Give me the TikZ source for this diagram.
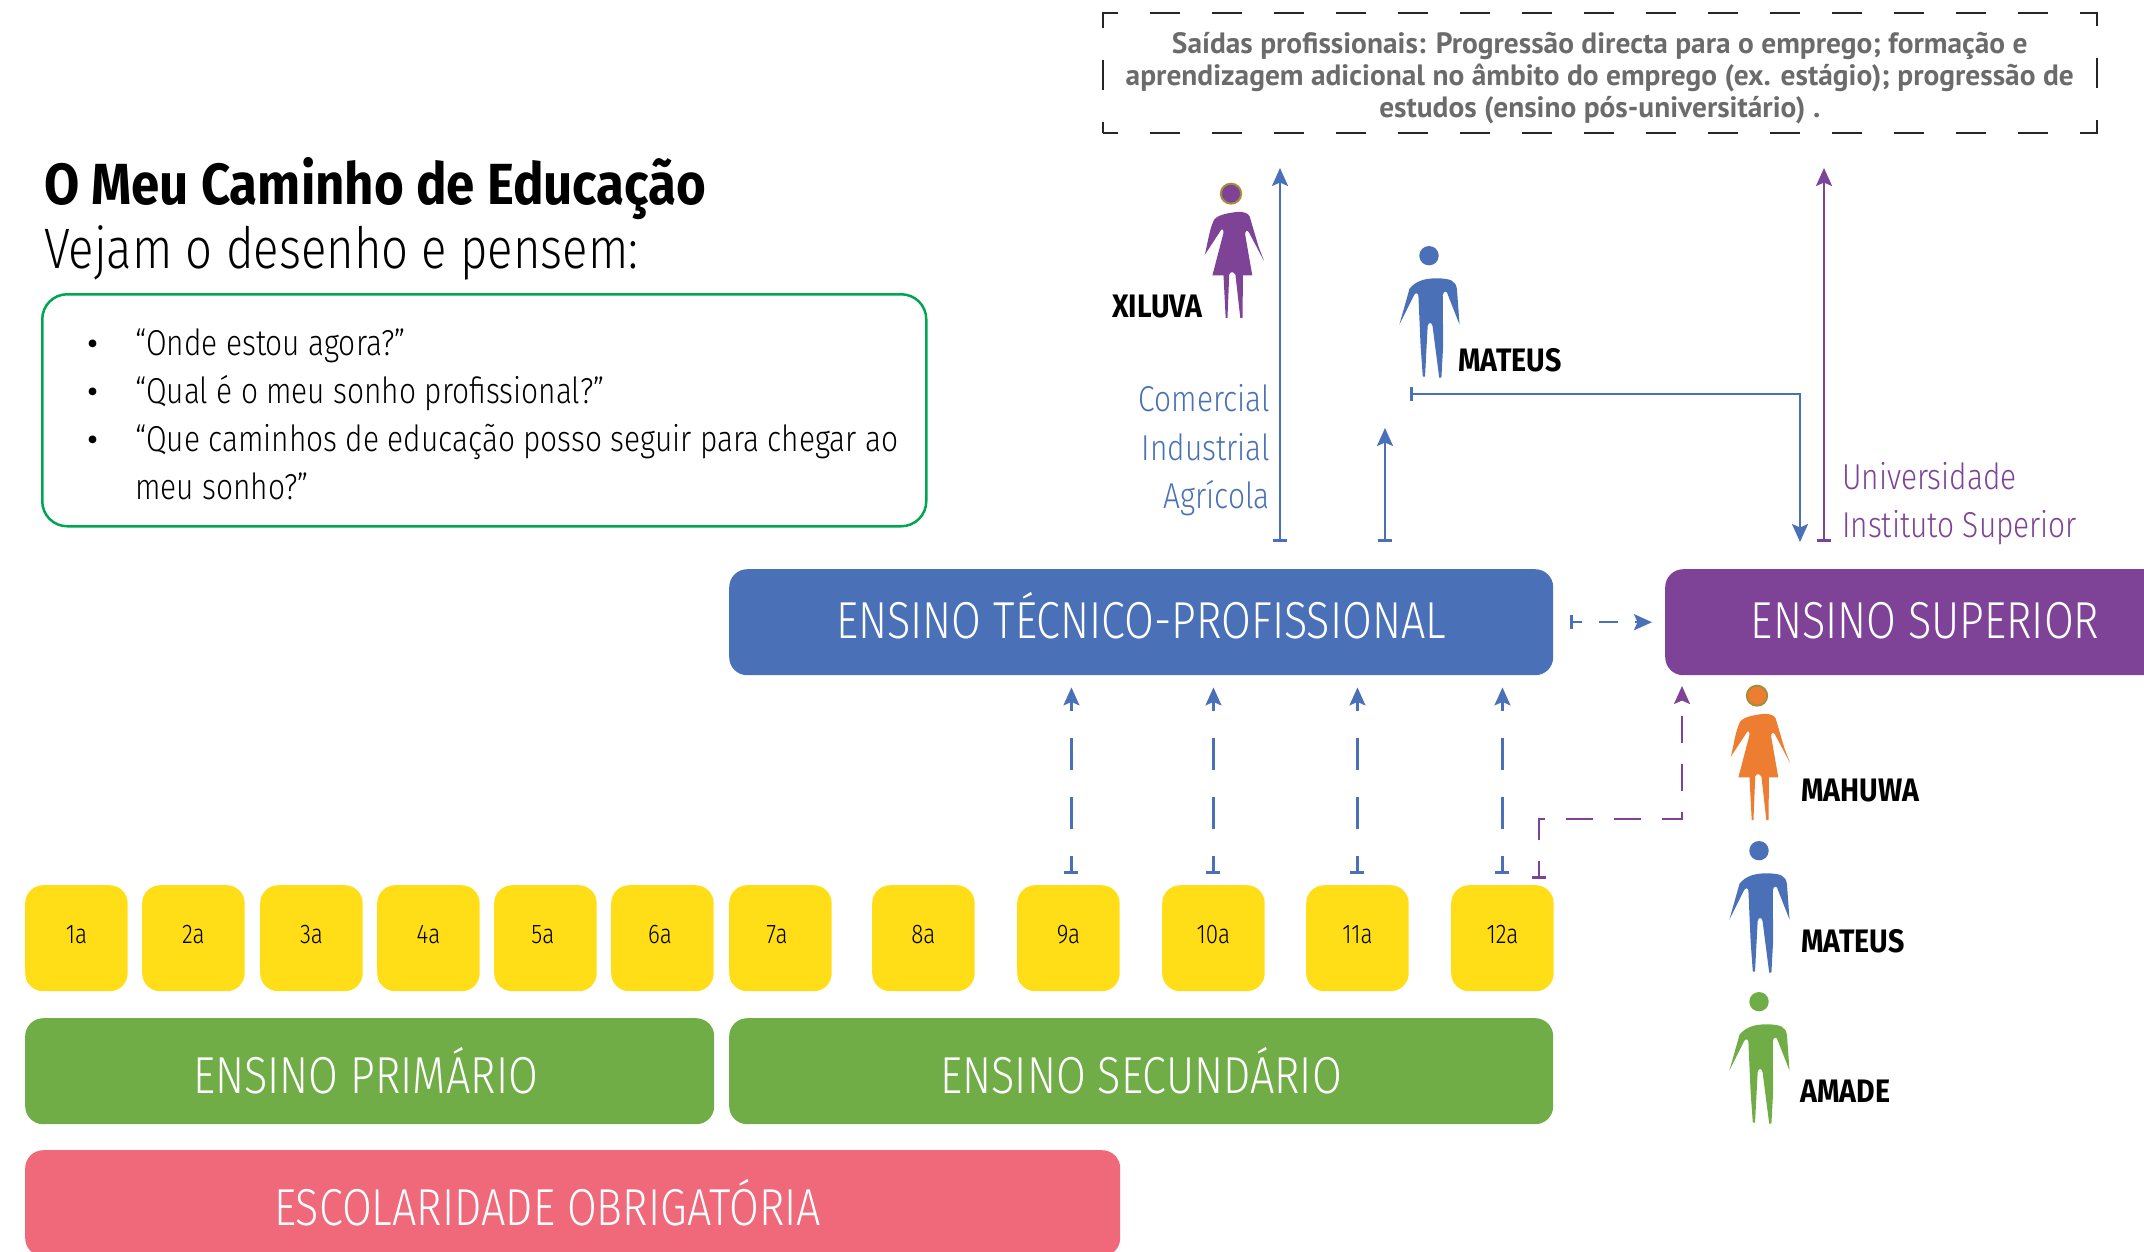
\documentclass[tikz,border=0pt]{standalone}
\usepackage{fontspec}
\usetikzlibrary{arrows.meta}
\setmainfont{Fira Sans}
\newfontfamily\lightf[FakeStretch=0.83]{Fira Sans Light}
\newfontfamily\boldf[FakeStretch=0.88]{Fira Sans}
\newfontfamily\handf{PT Sans}
\definecolor{ColorBlue}{RGB}{74,113,183}
\definecolor{ColorPurple}{RGB}{126,67,151}
\definecolor{ColorYellow}{RGB}{255,221,23}
\definecolor{ColorGreen}{RGB}{112,173,71}
\definecolor{ColorRed}{RGB}{240,105,122}
\definecolor{ColorOrange}{RGB}{237,125,49}
\definecolor{ColorRing}{RGB}{165,142,58}
\definecolor{ColorFrame}{RGB}{0,166,81}
\definecolor{ColorGrey}{RGB}{107,107,107}
\newcommand{\fsize}[1]{\fontsize{#1}{#1}\selectfont}
\tikzset{
  bloc/.style={anchor=north west,rounded corners=18pt,inner sep=0pt,minimum height=106pt,text height=33pt,text depth=0pt,text=white,font=\lightf\fsize{52}},
  baixo/.style={bloc,text height=44pt},
  ano/.style={bloc,fill=ColorYellow,minimum width=102.5pt,text=black,text height=11pt,text depth=0pt,font=\lightf\fsize{27}},
  tag/.style={anchor=base west,inner sep=0pt,font=\boldf\bfseries\fsize{32.5}},
  via/.style={anchor=base,inner sep=0pt,font=\lightf\fsize{36}},
  ask/.style={anchor=base west,inner sep=0pt,font=\lightf\fsize{36}},
  seta/.style={line width=2.2pt,{Bar[width=14pt,line width=2.6pt]}-{Stealth[width=16pt,length=18pt,inset=3.5pt]}},
  setadash/.style={seta,dash pattern=on 32pt off 27pt,dash phase=16pt}
}
% person drawn from the top of the head, #1 x, #2 y, #3 colour
\newcommand{\homem}[3]{
  \begin{scope}[shift={(#1,#2)},xscale=0.4427,yscale=0.3333]
    \fill[#3] (0,29) ellipse [x radius=22,y radius=29];
    \fill[#3] (16,97) .. controls (-10,97) and (-30,105) .. (-44,128) -- (-67,236) -- (-34,148)
      .. controls (-30,140) and (-26,140) .. (-24,148) -- (-19,300) -- (-14,392) -- (-9,392) -- (-3,240)
      .. controls (-1,228) and (6,228) .. (8,240) -- (23,395) -- (28,395) -- (32,298) -- (31,148)
      .. controls (33,133) and (41,133) .. (43,148) -- (69,236) -- (63,128)
      .. controls (60,105) and (50,97) .. (16,97) -- cycle;
  \end{scope}
}
\newcommand{\mulher}[3]{
  \begin{scope}[shift={(#1,#2)},xscale=0.4427,yscale=0.3333]
    \draw[ColorRing,fill=#3,line width=2pt] (0,32) ellipse [x radius=23,y radius=30];
    \fill[#3] (12,87) .. controls (-5,90) and (-30,95) .. (-38,110) .. controls (-48,135) and (-52,175) .. (-59,215)
      -- (-22,140) .. controls (-19,135) and (-17,140) .. (-17,150) -- (-42,277) -- (-17,277) -- (-12,405) -- (-8,405) -- (-4,275)
      .. controls (-2,265) and (6,265) .. (10,275) -- (21,405) -- (26,405) -- (27,277) -- (48,277) -- (32,155)
      .. controls (32,143) and (36,140) .. (40,147) -- (75,235) -- (62,190) -- (42,100)
      .. controls (38,90) and (28,85) .. (12,87) -- cycle;
  \end{scope}
}

\begin{document}
\begin{tikzpicture}[x=1pt,y=-1pt]
	\clip (0,0) rectangle (2144,1251);

	% title
	\node[anchor=base west,inner sep=0pt,font=\boldf\bfseries\fsize{58}] (titulo) at (44,204) {O Meu Caminho de Educação};
	\node[anchor=base west,inner sep=0pt,font=\lightf\fsize{57}] (subtitulo) at (44,268) {Vejam o desenho e pensem:};

	% questions
	\node[anchor=north west,draw=ColorFrame,line width=2.5pt,rounded corners=25pt,minimum width=884pt,minimum height=232pt] (perguntas) at (41,293) {};
	\foreach \n/\yy/\t in {1/355/“Onde estou agora?”,2/403/“Qual é o meu sonho profissional?”,3/451/“Que caminhos de educação posso seguir para chegar ao}{
		\node[ask] (q\n) at (135,\yy) {\t};
		\node[anchor=base,inner sep=0pt,font=\fsize{34}] (b\n) at (93,\yy) {\textbullet};
	}
	\node[ask] (q4) at (135,499) {meu sonho?”};

	% exits
	\node[anchor=north west,draw=black!85,line width=1.5pt,dash pattern=on 30pt off 32pt,dash phase=15pt,minimum width=994pt,minimum height=120pt,inner sep=0pt] (saidas) at (1102,12) {};
	\node[inner sep=0pt,text=ColorGrey,align=center,yshift=-5.5pt,font=\handf\bfseries\fontsize{29.4}{32}\selectfont] (saidastxt) at (saidas.center)
		{Saídas profissionais: Progressão directa para o emprego; formação e\\aprendizagem adicional no âmbito do emprego (ex. estágio); progressão de\\estudos (ensino pós-universitário) .};

	% main blocks
	\node[bloc,fill=ColorBlue,minimum width=824pt] (etp) at (729,569) {ENSINO TÉCNICO-PROFISSIONAL};
	\node[bloc,fill=ColorPurple,minimum width=520pt] (es) at (1665,569) {ENSINO SUPERIOR};
	\node[baixo,fill=ColorGreen,minimum width=689pt] (primario) at (25,1018) {ENSINO PRIMÁRIO\rule{8pt}{0pt}};
	\node[baixo,fill=ColorGreen,minimum width=824pt] (secundario) at (729,1018) {ENSINO SECUNDÁRIO};
	\node[baixo,fill=ColorRed,minimum width=1095pt] (obrigatoria) at (25,1150) {ESCOLARIDADE OBRIGATÓRIA\rule{50pt}{0pt}};

	% school years
	\foreach \n/\xx/\dx in {1/25/0,2/142/0,3/260/0,4/377/0,5/494/5,6/611/5,7/729/7,8/872/0,9/1017/0,10/1162/0,11/1306/0,12/1451/0}{
		\node[ano] (a\n) at (\xx,885) {\n a\rule{\dx pt}{0pt}};
	}

	% entry arrows to the technical block
	\foreach \n/\dx in {9/3,10/0,11/0,12/0}{
		\coordinate (c\n) at ([xshift=\dx pt]a\n.north);
		\draw[setadash,ColorBlue,shorten <=11pt,shorten >=12pt] (c\n) -- (c\n |- etp.south);
	}

	% from 12a to the higher block
	\coordinate (p12) at (1539,885);
	\coordinate (pes) at (1682,674);
	\draw[seta,ColorPurple,dash pattern=on 27pt off 21pt,dash phase=11pt,shorten <=6pt,shorten >=12pt] (p12) |- (1682,819) -- (pes);

	% between the blocks
	\draw[seta,ColorBlue,dash pattern=on 19pt off 17pt,dash phase=9pt,shorten <=17pt,shorten >=13pt] (etp.east) -- (es.west);

	% exits from the blocks
	\coordinate (topo1) at (1280,168);
	\coordinate (topo2) at (1824,168);
	\coordinate (meio) at (1385,428);
	\coordinate (volta) at (1410,394);
	\coordinate (esin) at (1800,569);
	\draw[seta,ColorBlue,shorten <=27pt] (topo1 |- etp.north) -- (topo1);
	\draw[seta,ColorBlue,shorten <=27pt] (meio |- etp.north) -- (meio);
	\draw[seta,ColorPurple,shorten <=27pt] (topo2 |- es.north) -- (topo2);
	\draw[seta,ColorBlue,shorten >=27pt] (volta) -| (esin);

	% course labels
	\node[via,anchor=base east,text=ColorBlue] (comercial) at (1270,411.5) {Comercial};
	\node[via,anchor=base east,text=ColorBlue] (industrial) at (1270,460.5) {Industrial};
	\node[via,anchor=base east,text=ColorBlue] (agricola) at (1270,508.5) {Agrícola};
	\node[via,anchor=base west,text=ColorPurple] (universidade) at (1842,489.5) {Universidade};
	\node[via,anchor=base west,text=ColorPurple] (instituto) at (1842,537.5) {Instituto Superior};

	% people
	\mulher{1231}{183}{ColorPurple}
	\homem{1429}{246}{ColorBlue}
	\mulher{1757}{685}{ColorOrange}
	\homem{1759}{841}{ColorBlue}
	\homem{1759}{992}{ColorGreen}
	\node[tag] (xiluva) at (1112,317) {XILUVA};
	\node[tag] (mateus1) at (1458,371) {MATEUS};
	\node[tag] (mahuwa) at (1801,801) {MAHUWA};
	\node[tag] (mateus2) at (1801,952) {MATEUS};
	\node[tag] (amade) at (1800,1102) {AMADE};
\end{tikzpicture}
\end{document}
